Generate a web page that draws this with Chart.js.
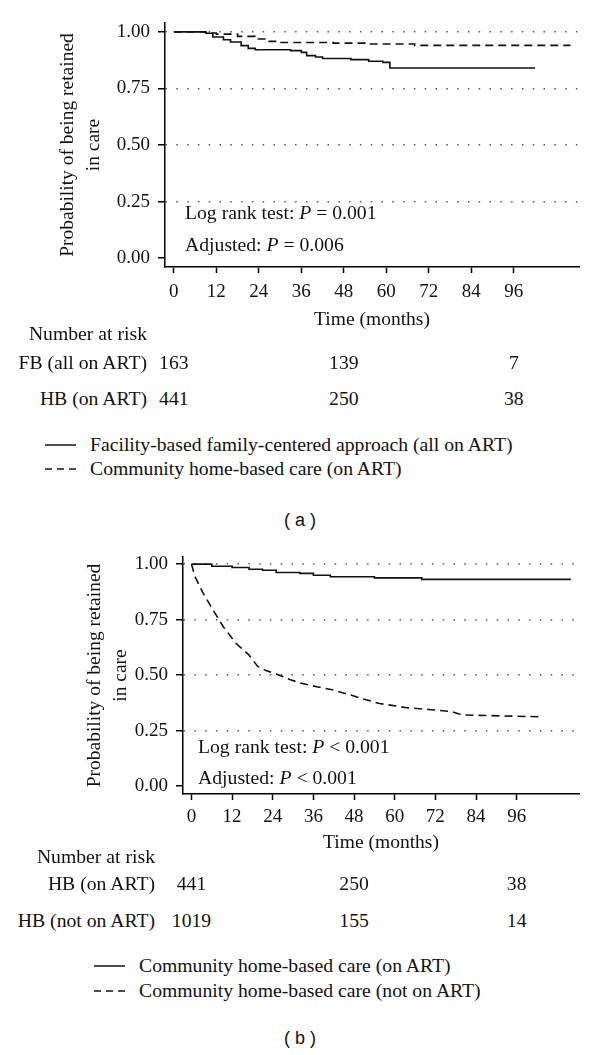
<!DOCTYPE html>
<html>
<head>
<meta charset="utf-8">
<script src="https://cdn.jsdelivr.net/npm/chart.js@4/dist/chart.umd.min.js"></script>
<style>
body{margin:0;background:#fff;}
#page{position:relative;width:600px;height:1055px;background:#fff;font-family:"Liberation Serif",serif;font-size:19.7px;color:#111;overflow:hidden;}
canvas{position:absolute;left:0;}
.t{position:absolute;white-space:nowrap;line-height:1;}
</style>
</head>
<body>
<div id="page">
<canvas id="chartA" width="600" height="340" style="top:0px"></canvas>
<canvas id="chartB" width="600" height="330" style="top:530px"></canvas>
</div>
<script>
// axis ticks
const xTicks = [0,12,24,36,48,60,72,84,96]
const yTicks = [0,0.25,0.5,0.75,1]
const riskTimes = [0,48,96]

// (a) facility-based family-centered approach, all on ART (solid)
const tFB = [0,9,11,14,16,19,21,23,33,36,37.5,40,42,50,55,59,61,102]
const sFB = [1,0.994,0.977,0.965,0.955,0.939,0.927,0.921,0.917,0.909,0.895,0.889,0.882,0.877,0.87,0.865,0.84,0.84]

// (a) community home-based care, on ART (dashed)
const tHB = [0,9,12,18,23,26,30,45,54,68,112]
const sHB = [1,0.995,0.99,0.98,0.968,0.958,0.953,0.95,0.946,0.94,0.94]

// (b) community home-based care, on ART (solid)
const tHBon = [0,6,12,17,21,25,32,36,41,54,68,112]
const sHBon = [1,0.99,0.985,0.977,0.972,0.962,0.958,0.95,0.943,0.938,0.931,0.931]

// (b) community home-based care, not on ART (dashed)
const tHBoff = [0,1,3.4,6.3,9.3,13,17,19.5,22,25,29,32,37,42,47,50,55.5,63.5,70,77,80,103]
const sHBoff = [1,0.945,0.87,0.795,0.72,0.645,0.59,0.54,0.52,0.505,0.48,0.465,0.447,0.432,0.41,0.395,0.372,0.353,0.345,0.335,0.32,0.312]

// number at risk
const riskFB = [163,139,7]
const riskHB = [441,250,38]
const riskHBoff = [1019,155,14]

const serif = "Liberation Serif"
const page = document.getElementById("page")

function pts(t,s){
return t.map((v,i)=>({x:v,y:s[i]}))
}

function addText(html,x,y,align,style){
const d = document.createElement("div")
d.className = "t"
d.innerHTML = html
d.style.left = x+"px"
d.style.top = y+"px"
const tx = align==="right" ? "-100%" : align==="center" ? "-50%" : "0"
d.style.transform = "translate("+tx+",-50%)"
if(style) d.style.cssText += style
page.appendChild(d)
}

function legendRow(x,y,dashed,label){
const svg = '<svg width="31" height="4" style="position:absolute;left:'+x+'px;top:'+(y-2)+'px">'+
'<line x1="0" y1="2" x2="31" y2="2" stroke="#111" stroke-width="1.5"'+(dashed?' stroke-dasharray="7 5"':'')+'/></svg>'
page.insertAdjacentHTML("beforeend",svg)
addText(label,x+45,y,"left")
}

function makeChart(id,datasets,o){
return new Chart(document.getElementById(id),{
type:"line",
data:{datasets:datasets},
options:{
responsive:false,
animation:false,
devicePixelRatio:1,
layout:{padding:{left:0,right:21,top:o.padTop,bottom:0}},
plugins:{legend:{display:false},tooltip:{enabled:false}},
elements:{point:{radius:0}},
scales:{
x:{
type:"linear",min:-2.5,max:114.4,
afterBuildTicks:s=>{s.ticks=xTicks.map(v=>({value:v}))},
afterFit:s=>{s.height=o.xHeight},
border:{display:true,color:"#000",width:1.5},
grid:{drawOnChartArea:false,drawTicks:true,tickLength:6,tickColor:"#000",tickWidth:1.5},
ticks:{color:"#111",font:{family:serif,size:19,lineHeight:1.2},padding:o.tickPad,maxRotation:0,autoSkip:false},
title:{display:true,text:"Time (months)",color:"#111",font:{family:serif,size:19.5,lineHeight:1.35},padding:{top:0,bottom:o.xTitlePad}}
},
y:{
type:"linear",min:o.yMin,max:o.yMax,
afterBuildTicks:s=>{s.ticks=yTicks.map(v=>({value:v}))},
afterFit:s=>{s.width=o.yWidth},
border:{display:true,color:"#000",width:1.5,dash:[1.5,9.3]},
grid:{
color:c=>(c.tick && c.tick.value===0) ? "rgba(0,0,0,0)" : "#555",
lineWidth:1.5,tickColor:"#000",tickWidth:1.5,tickLength:7,tickBorderDash:[]
},
ticks:{color:"#111",font:{family:serif,size:19,lineHeight:1.2},padding:8,callback:v=>Number(v).toFixed(2),autoSkip:false},
title:{display:true,text:["Probability of being retained","in care"],color:"#111",font:{family:serif,size:19.5,lineHeight:1.33},padding:{top:o.yTitlePad,bottom:0}}
}
}
}
})
}

const lineBase = {borderColor:"#111",borderWidth:1.6,pointRadius:0,fill:false}

const chartA = makeChart("chartA",[
Object.assign({label:"FB",data:pts(tFB,sFB),stepped:true},lineBase),
Object.assign({label:"HB",data:pts(tHB,sHB),stepped:true,borderDash:[8,5]},lineBase)
],{padTop:23,xHeight:73,tickPad:8,xTitlePad:7,yMin:-0.039,yMax:1.039,yWidth:165,yTitlePad:55})

const chartB = makeChart("chartB",[
Object.assign({label:"HB on",data:pts(tHBon,sHBon),stepped:true},lineBase),
Object.assign({label:"HB off",data:pts(tHBoff,sHBoff),borderDash:[8,5],tension:0},lineBase)
],{padTop:27,xHeight:66,tickPad:6,xTitlePad:4,yMin:-0.036,yMax:1.032,yWidth:183,yTitlePad:82})

// annotations inside the plots
addText("Log rank test: <i>P</i> = 0.001",185,213,"left")
addText("Adjusted: <i>P</i> = 0.006",185,245,"left")
addText("Log rank test: <i>P</i> &lt; 0.001",198,747,"left")
addText("Adjusted: <i>P</i> &lt; 0.001",198,778,"left")

// number at risk tables
function riskTable(chart,top,labelX,rows){
addText("Number at risk",labelX,top,"right")
rows.forEach(r=>{
addText(r.label,labelX,r.y,"right")
r.values.forEach((v,i)=>{
const px = chart.scales.x.getPixelForValue(riskTimes[i])
addText(String(v),px,r.y,"center")
})
})
}

riskTable(chartA,334,147,[
{label:"FB (all on ART)",y:363,values:riskFB},
{label:"HB (on ART)",y:399,values:riskHB}
])
riskTable(chartB,857,155,[
{label:"HB (on ART)",y:884,values:riskHB},
{label:"HB (not on ART)",y:921,values:riskHBoff}
])

// legends
legendRow(45,445,false,"Facility-based family-centered approach (all on ART)")
legendRow(45,469,true,"Community home-based care (on ART)")
legendRow(94,966,false,"Community home-based care (on ART)")
legendRow(94,991,true,"Community home-based care (not on ART)")

// panel captions
addText("( a )",300,520,"center","font-family:'Liberation Sans',sans-serif;font-size:18px;")
addText("( b )",300,1038,"center","font-family:'Liberation Sans',sans-serif;font-size:18px;")
</script>
</body>
</html>
